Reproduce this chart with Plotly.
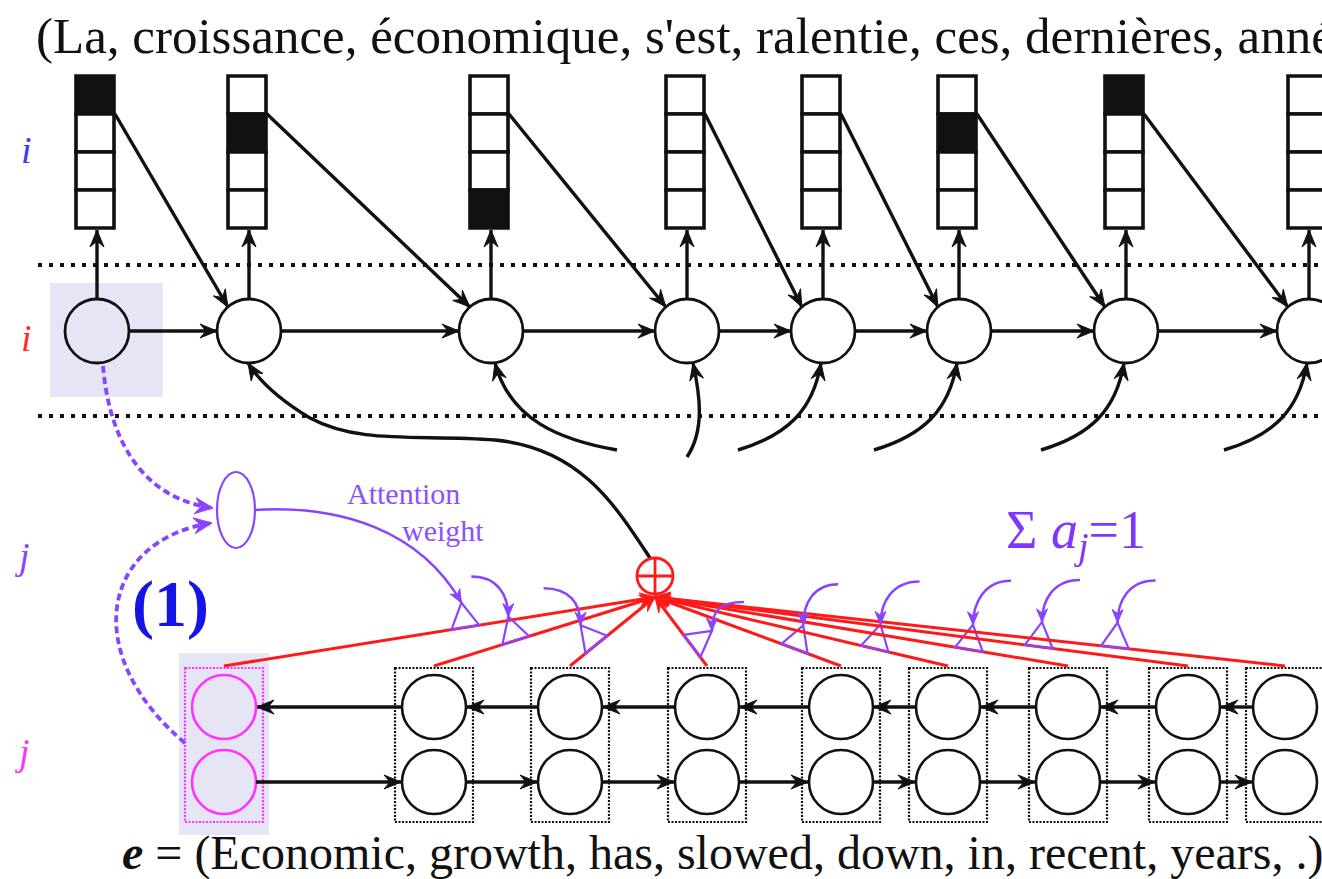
import numpy as np
import plotly.graph_objects as go

# ---------------- data ----------------
french_words = ["La", "croissance", "économique", "s'est", "ralentie", "ces",
                "dernières", "années", "."]
english_words = ["Economic", "growth", "has", "slowed", "down", "in", "recent",
                 "years", "."]
# index of the active cell of each decoder one-hot output vector (None = none shown)
onehot_active = [0, 1, 3, None, None, 1, 0, None]
onehot_cells = 4
attention_label = ["Attention", "weight"]
side_labels = ["i", "i", "j", "j"]
sum_label = "Σ <i>a</i><sub><i>j</i></sub>=1"
step_label = "(1)"

# ---------------- layout constants (pixel space) ----------------
W, H = 1322, 879
dec_x = [97, 249, 491, 687, 823, 959, 1126, 1309]
dec_y, dec_r = 331, 32
box_top, cell_h, box_w = 76, 38, 38
enc_x = [224, 434, 570, 707, 841, 948, 1068, 1188, 1285]
enc_y_top, enc_y_bot, enc_r = 707, 782, 32
enc_rect_y0, enc_rect_y1, enc_rect_hw = 668, 822, 39
ctx_x, ctx_y, ctx_r = 655, 576, 18
conv_pt = (655, 597)
gate_t = [0.56, 0.37, 0.31, 0.29, 0.25, 0.25, 0.24, 0.28, 0.27]
gate_src = [None, (-37, -40), (-37, -37), (32, -29), (35, -41), (39, -43),
            (38, -44), (38, -42), (38, -42)]

BLACK = "#111111"
RED = "#ff1a1a"
PURPLE = "#8a44ff"
MAGENTA = "#ff33ff"
HILITE = "#e5e5f6"
SERIF = "Liberation Serif, Times New Roman, serif"
LW = 3.4

shapes = []


def fmt(p):
    return f"{p[0]:.1f},{p[1]:.1f}"


def head(tip, frm, color, L=17, Wd=7, notch=6):
    tip = np.array(tip, float)
    frm = np.array(frm, float)
    u = tip - frm
    u /= np.linalg.norm(u)
    p = np.array([-u[1], u[0]])
    b = tip - L * u
    l = b + Wd * p
    r = b - Wd * p
    m = tip - (L - notch) * u
    shapes.append(dict(type="path", xref="x", yref="y",
                       path=f"M{fmt(tip)} L{fmt(l)} L{fmt(m)} L{fmt(r)} Z",
                       fillcolor=color, line=dict(color=color, width=1)))


def seg(p0, p1, color, width, dash=None):
    shapes.append(dict(type="line", xref="x", yref="y", x0=p0[0], y0=p0[1],
                       x1=p1[0], y1=p1[1],
                       line=dict(color=color, width=width, dash=dash)))


def arrow(p0, p1, color=BLACK, width=LW, **kw):
    seg(p0, p1, color, width)
    head(p1, p0, color, **kw)


def path(d, color, width, dash=None, fill=None):
    shapes.append(dict(type="path", xref="x", yref="y", path=d,
                       line=dict(color=color, width=width, dash=dash),
                       fillcolor=fill if fill else "rgba(0,0,0,0)"))


def cubic(p0, c1, c2, p1):
    return f"M{fmt(p0)} C{fmt(c1)} {fmt(c2)} {fmt(p1)}"


def ellipse(cx, cy, rx, ry, color, width, fill="rgba(0,0,0,0)", dash=None):
    shapes.append(dict(type="circle", xref="x", yref="y", x0=cx - rx, x1=cx + rx,
                       y0=cy - ry, y1=cy + ry, fillcolor=fill,
                       line=dict(color=color, width=width, dash=dash)))


# ---------------- highlight boxes ----------------
shapes.append(dict(type="rect", xref="x", yref="y", x0=50, x1=163, y0=283, y1=397,
                   fillcolor=HILITE, line=dict(width=0), layer="below"))
shapes.append(dict(type="rect", xref="x", yref="y", x0=enc_x[0] - 45, x1=enc_x[0] + 45,
                   y0=653, y1=835, fillcolor=HILITE, line=dict(width=0), layer="below"))

# ---------------- dotted separators ----------------
for yy in (265, 416):
    seg((38, yy), (W, yy), BLACK, 4, dash="4px,7px")

# ---------------- decoder: one-hot outputs ----------------
for i, xc in enumerate(dec_x):
    bx0 = xc - 2 - box_w / 2
    bx1 = xc - 2 + box_w / 2
    for k in range(onehot_cells):
        y0 = box_top + k * cell_h
        filled = onehot_active[i] == k
        shapes.append(dict(type="rect", xref="x", yref="y", x0=bx0, x1=bx1,
                           y0=y0, y1=y0 + cell_h,
                           fillcolor=BLACK if filled else "white",
                           line=dict(color=BLACK, width=3.6)))
    box_bottom = box_top + onehot_cells * cell_h
    arrow((xc, dec_y - dec_r - 1), (xc, box_bottom + 2))
    # feedback of output word into next state
    if i + 1 < len(dec_x):
        nx = dec_x[i + 1]
        arrow((bx1 + 1, box_top + cell_h), (nx - 0.66 * dec_r, dec_y - 0.75 * dec_r))

# ---------------- decoder: states ----------------
for i, xc in enumerate(dec_x):
    ellipse(xc, dec_y, dec_r, dec_r, BLACK, 2.8,
            fill="rgba(0,0,0,0)" if i == 0 else "white")
    if i + 1 < len(dec_x):
        arrow((xc + dec_r, dec_y), (dec_x[i + 1] - dec_r, dec_y))

# context inputs into decoder states
bot = dec_y + dec_r
cx2 = dec_x[1]
big = (f"M{ctx_x - 5},{ctx_y - ctx_r} C{ctx_x - 40},505 {ctx_x - 75},448 {ctx_x - 160},440 "
       f"C{ctx_x - 235},434 {ctx_x - 295},445 {ctx_x - 345},418 "
       f"C{ctx_x - 370},403 {cx2 + 13},385 {cx2 - 1},{bot}")
path(big, BLACK, LW)
head((cx2 - 1, bot), (cx2 + 13, 385), BLACK)

curve_specs = {
    2: [(126, 450), (69, 440), (19, 420), (4, bot)],
    3: [(0, 457), (18, 430), (13, 395), (6, bot)],
}
for i in range(2, len(dec_x)):
    xc = dec_x[i]
    spec = curve_specs.get(i, [(-85, 450), (-35, 435), (-10, 410), (-2, bot)])
    pts = [(xc + dx, yy) for dx, yy in spec]
    path(cubic(*pts), BLACK, LW)
    head(pts[3], pts[2], BLACK)

# ---------------- encoder ----------------
for j, ex in enumerate(enc_x):
    col = MAGENTA if j == 0 else BLACK
    shapes.append(dict(type="rect", xref="x", yref="y", x0=ex - enc_rect_hw,
                       x1=ex + enc_rect_hw, y0=enc_rect_y0, y1=enc_rect_y1,
                       fillcolor="rgba(0,0,0,0)",
                       line=dict(color=col, width=2.2, dash="2px,1.5px")))
    for yy in (enc_y_top, enc_y_bot):
        ellipse(ex, yy, enc_r, enc_r, col, 2.6,
                fill="rgba(0,0,0,0)" if j == 0 else "white")
for j in range(len(enc_x) - 1):
    a, b = enc_x[j], enc_x[j + 1]
    arrow((b - enc_r, enc_y_top), (a + enc_r + 1, enc_y_top))
    arrow((a + enc_r, enc_y_bot), (b - enc_r - 1, enc_y_bot))

# ---------------- attention: red lines, gates ----------------
C = np.array(conv_pt, float)
apexes = []
for j, ex in enumerate(enc_x):
    E = np.array([ex, enc_rect_y0 - 2], float)
    seg(E, C, RED, 3)
    u = (C - E) / np.linalg.norm(C - E)
    n = np.array([-u[1], u[0]])
    if n[1] > 0:
        n = -n
    B = E + gate_t[j] * (C - E)
    apex = B + 25 * n
    apexes.append(apex)
    l = B - 14 * u
    r = B + 14 * u
    path(f"M{fmt(l)} L{fmt(apex)} L{fmt(r)} Z", PURPLE, 2.2)
for j, ex in enumerate(enc_x):
    E = np.array([ex, enc_rect_y0 - 2], float)
    head(C, E, RED, L=15, Wd=6.5)

for j in range(1, len(enc_x)):
    apex = apexes[j]
    s = apex + np.array(gate_src[j], float)
    c1 = (s[0] + (apex[0] - s[0]) * 0.7, s[1])
    c2 = (apex[0], apex[1] - 22)
    path(cubic(s, c1, c2, apex), PURPLE, 2.5)
    head(apex, c2, PURPLE, L=13, Wd=5.5, notch=4)

# context node (sum)
ellipse(ctx_x, ctx_y, ctx_r, ctx_r, RED, 2.8, fill="white")
seg((ctx_x - ctx_r, ctx_y), (ctx_x + ctx_r, ctx_y), RED, 2.8)
seg((ctx_x, ctx_y - ctx_r), (ctx_x, ctx_y + ctx_r), RED, 2.8)

# ---------------- alignment model ----------------
att_cx, att_cy = 236, 510
ellipse(att_cx, att_cy, 19, 38, PURPLE, 2.2, fill="white")
# dashed inputs
p0, c1, c2, p1 = (103, 366), (110, 450), (150, 500), (213, 508)
path(cubic(p0, c1, c2, p1), PURPLE, 3.8, dash="7px,4px")
head(p1, c2, PURPLE, L=18, Wd=8)
p0, c1, c2, p1 = (185, 743), (80, 655), (100, 540), (212, 523)
path(cubic(p0, c1, c2, p1), PURPLE, 3.8, dash="7px,4px")
head(p1, c2, PURPLE, L=18, Wd=8)
# attention weight output
a0 = apexes[0]
p0, c1, c2 = (att_cx + 19, att_cy), (340, 505), (420, 530)
path(cubic(p0, c1, c2, a0), PURPLE, 2.5)
head(a0, c2, PURPLE, L=13, Wd=5.5, notch=4)

# ---------------- text ----------------
ann = []
ann.append(dict(x=34, y=36, xanchor="left", yanchor="middle",
                text="(" + ", ".join(french_words) + ")",
                font=dict(family=SERIF, size=51, color=BLACK)))
ann.append(dict(x=722, y=853, xanchor="center", yanchor="middle",
                text="<b><i>e</i></b> = (" + ", ".join(english_words) + ")",
                font=dict(family=SERIF, size=48, color=BLACK)))
ann.append(dict(x=403, y=493, xanchor="center", yanchor="middle",
                text=attention_label[0], font=dict(family=SERIF, size=30, color="#8c50ff")))
ann.append(dict(x=443, y=530, xanchor="center", yanchor="middle",
                text=attention_label[1], font=dict(family=SERIF, size=30, color="#8c50ff")))
ann.append(dict(x=1076, y=533, xanchor="center", yanchor="middle", text=sum_label,
                font=dict(family=SERIF, size=54, color="#7f36ff")))
ann.append(dict(x=170, y=604, xanchor="center", yanchor="middle",
                text="<b>" + step_label + "</b>",
                font=dict(family=SERIF, size=66, color="#1414e6")))
label_pos = [(26, 150, "#3b3bff"), (26, 338, "#ff2a2a"), (22, 556, PURPLE), (22, 752, MAGENTA)]
for lab, (lx, ly, lc) in zip(side_labels, label_pos):
    ann.append(dict(x=lx, y=ly, xanchor="center", yanchor="middle",
                    text="<i>" + lab + "</i>", font=dict(family=SERIF, size=38, color=lc)))
for a in ann:
    a.update(xref="x", yref="y", showarrow=False)

fig = go.Figure()
fig.add_trace(go.Scatter(x=[0, W], y=[0, H], mode="markers",
                         marker=dict(opacity=0), hoverinfo="skip", showlegend=False))
fig.update_layout(
    width=W, height=H, margin=dict(l=0, r=0, t=0, b=0),
    paper_bgcolor="white", plot_bgcolor="white",
    xaxis=dict(range=[0, W], visible=False, fixedrange=True),
    yaxis=dict(range=[H, 0], visible=False, fixedrange=True),
    shapes=shapes, annotations=ann, showlegend=False, dragmode=False,
)
fig.write_html("out.html", config={"displayModeBar": False},
               post_script="document.body.style.margin='0';"
                           "document.body.style.overflow='hidden';")
